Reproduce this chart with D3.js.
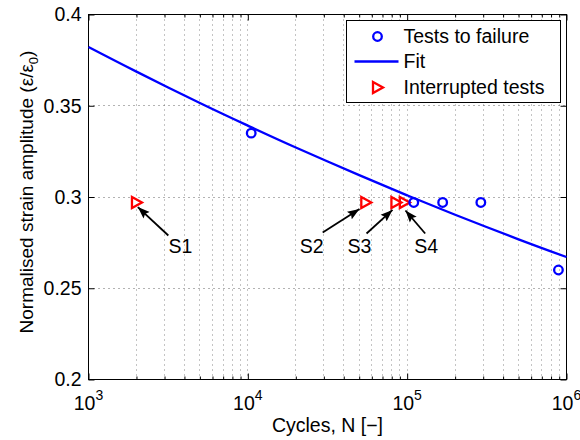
<!DOCTYPE html>
<html>
<head>
<meta charset="utf-8">
<script src="https://cdn.jsdelivr.net/npm/d3@7"></script>
<style>
  body { margin: 0; background: #fff; }
  text { font-family: 'Liberation Sans', Arial, sans-serif; fill: #000; }
</style>
</head>
<body>
<div id="chart"></div>
<script>
// tests run to failure
const failN = [10500, 110000, 167000, 290000, 890000]
const failV = [0.335, 0.297, 0.297, 0.297, 0.26]

// interrupted tests S1..S4
const interruptedN = [2000, 55000, 85000, 96000]
const interruptedV = [0.297, 0.297, 0.297, 0.297]

// fitted curve
const fitN = [1e3, 2e3, 5e3, 1e4, 2e4, 5e4, 1e5, 2e5, 5e5, 1e6]
const fitV = [0.3822, 0.3687, 0.3515, 0.3391, 0.3271, 0.312, 0.3009, 0.2903, 0.2768, 0.2671]

const xTickValues = [1e3, 1e4, 1e5, 1e6]
const xTickExponents = ['3', '4', '5', '6']
const yTickValues = [0.2, 0.25, 0.3, 0.35, 0.4]
const yTickLabels = ['0.2', '0.25', '0.3', '0.35', '0.4']

// label position and arrow tail/head, in data units
const annotations = [
  { label: 'S1', textN: 3770, textV: 0.2729, tailN: 3170, tailV: 0.2789, headN: 2040, headV: 0.2945 },
  { label: 'S2', textN: 25200, textV: 0.2729, tailN: 29500, tailV: 0.2805, headN: 50200, headV: 0.2934 },
  { label: 'S3', textN: 50200, textV: 0.2729, tailN: 55600, tailV: 0.28, headN: 80900, headV: 0.2929 },
  { label: 'S4', textN: 131500, textV: 0.2729, tailN: 129700, tailV: 0.28, headN: 97600, headV: 0.2926 }
]

const margin = { top: 14, right: 14, bottom: 61, left: 88 }
const width = 580 - margin.left - margin.right
const height = 440 - margin.top - margin.bottom

const root = d3
  .select('#chart')
  .append('svg')
  .attr('width', 580)
  .attr('height', 440)

root
  .append('defs')
  .append('marker')
  .attr('id', 'arrow')
  .attr('viewBox', '0 -5 12 10')
  .attr('refX', 12)
  .attr('refY', 0)
  .attr('markerUnits', 'userSpaceOnUse')
  .attr('markerWidth', 12)
  .attr('markerHeight', 10)
  .attr('orient', 'auto')
  .append('path')
  .attr('d', 'M0,-4.5L12,0L0,4.5L2,0Z')
  .attr('fill', '#000')

const svg = root
  .append('g')
  .attr('transform', 'translate(' + (margin.left + 0.5) + ',' + (margin.top + 0.5) + ')')

const xPositionScale = d3.scaleLog().domain([1e3, 1e6]).range([0, width])
const yPositionScale = d3.scaleLinear().domain([0.2, 0.4]).range([height, 0])

// every 2..9 x 10^k position on the log axis
const xMinor = []
for (let k = 3; k < 6; k++) {
  for (let m = 2; m < 10; m++) xMinor.push(m * Math.pow(10, k))
}
const xGrid = xMinor.concat([1e4, 1e5])

// dotted grid
const grid = svg.append('g').attr('class', 'grid')

grid
  .selectAll('line.gx')
  .data(xGrid)
  .enter()
  .append('line')
  .attr('class', 'gx')
  .attr('x1', d => Math.round(xPositionScale(d)))
  .attr('x2', d => Math.round(xPositionScale(d)))
  .attr('y1', 0)
  .attr('y2', height)
  .attr('stroke', '#888')
  .attr('stroke-dasharray', '1,4')

grid
  .selectAll('line.gy')
  .data(yTickValues.slice(1, -1))
  .enter()
  .append('line')
  .attr('class', 'gy')
  .attr('x1', 0)
  .attr('x2', width)
  .attr('y1', d => Math.round(yPositionScale(d)))
  .attr('y2', d => Math.round(yPositionScale(d)))
  .attr('stroke', '#666')
  .attr('stroke-dasharray', '1,4')

// inward ticks on all four sides
const tickAxes = [
  { axis: d3.axisBottom(xPositionScale).tickValues(xTickValues).tickSize(-6), at: 'translate(0,' + height + ')' },
  { axis: d3.axisBottom(xPositionScale).tickValues(xMinor).tickSize(-3), at: 'translate(0,' + height + ')' },
  { axis: d3.axisTop(xPositionScale).tickValues(xTickValues).tickSize(-6), at: 'translate(0,0)' },
  { axis: d3.axisTop(xPositionScale).tickValues(xMinor).tickSize(-3), at: 'translate(0,0)' },
  { axis: d3.axisLeft(yPositionScale).tickValues(yTickValues).tickSize(-6), at: 'translate(0,0)' },
  { axis: d3.axisRight(yPositionScale).tickValues(yTickValues).tickSize(-6), at: 'translate(' + width + ',0)' }
]

tickAxes.forEach(t => {
  const g = svg
    .append('g')
    .attr('transform', t.at)
    .call(t.axis.tickFormat(''))
  g.select('.domain').remove()
  g.selectAll('line').attr('stroke', '#000')
})

svg
  .append('rect')
  .attr('width', width)
  .attr('height', height)
  .attr('fill', 'none')
  .attr('stroke', '#000')

// tick labels
const xLabels = svg
  .selectAll('.x-label')
  .data(xTickValues)
  .enter()
  .append('text')
  .attr('class', 'x-label')
  .attr('x', d => xPositionScale(d))
  .attr('y', height + 30)
  .attr('text-anchor', 'middle')
  .style('font-size', '19.5px')

xLabels.append('tspan').text('10')
xLabels
  .append('tspan')
  .attr('dy', -10)
  .style('font-size', '14px')
  .text((d, i) => xTickExponents[i])

svg
  .selectAll('.y-label')
  .data(yTickValues)
  .enter()
  .append('text')
  .attr('class', 'y-label')
  .attr('x', -7)
  .attr('y', d => yPositionScale(d))
  .attr('dy', '0.35em')
  .attr('text-anchor', 'end')
  .style('font-size', '19.5px')
  .text((d, i) => yTickLabels[i])

// axis titles
svg
  .append('text')
  .attr('x', width / 2)
  .attr('y', height + 52)
  .attr('text-anchor', 'middle')
  .style('font-size', '19.5px')
  .text('Cycles, N [\u2212]')

const yTitle = svg
  .append('text')
  .attr('transform', 'translate(-56,' + (height / 2 - 5) + ') rotate(-90)')
  .attr('text-anchor', 'middle')
  .style('font-size', '19px')

yTitle.append('tspan').text('Normalised strain amplitude (\u03b5/\u03b5')
yTitle
  .append('tspan')
  .attr('dy', 5)
  .style('font-size', '13px')
  .text('0')
yTitle
  .append('tspan')
  .attr('dy', -5)
  .text(')')

// fit
const fitData = fitN.map((n, i) => ({ n: n, v: fitV[i] }))
const line = d3
  .line()
  .x(d => xPositionScale(d.n))
  .y(d => yPositionScale(d.v))
  .curve(d3.curveNatural)

svg
  .append('path')
  .datum(fitData)
  .attr('d', line)
  .attr('fill', 'none')
  .attr('stroke', '#0000ff')
  .attr('stroke-width', 2.3)

const trianglePath = 'M-4.5,-5.5L5.5,0L-4.5,5.5Z'

// interrupted tests
svg
  .selectAll('.interrupted')
  .data(interruptedN)
  .enter()
  .append('path')
  .attr('class', 'interrupted')
  .attr('d', trianglePath)
  .attr('transform', (d, i) => 'translate(' + xPositionScale(d) + ',' + yPositionScale(interruptedV[i]) + ')')
  .attr('fill', 'none')
  .attr('stroke', '#ff0000')
  .attr('stroke-width', 2.3)

// tests to failure
svg
  .selectAll('.failure')
  .data(failN)
  .enter()
  .append('circle')
  .attr('class', 'failure')
  .attr('cx', d => xPositionScale(d))
  .attr('cy', (d, i) => yPositionScale(failV[i]))
  .attr('r', 4.3)
  .attr('fill', 'none')
  .attr('stroke', '#0000ff')
  .attr('stroke-width', 2.3)

// S1..S4 arrows
svg
  .selectAll('.arrow')
  .data(annotations)
  .enter()
  .append('line')
  .attr('class', 'arrow')
  .attr('x1', d => xPositionScale(d.tailN))
  .attr('y1', d => yPositionScale(d.tailV))
  .attr('x2', d => xPositionScale(d.headN))
  .attr('y2', d => yPositionScale(d.headV))
  .attr('stroke', '#000')
  .attr('stroke-width', 1.8)
  .attr('marker-end', 'url(#arrow)')

svg
  .selectAll('.note')
  .data(annotations)
  .enter()
  .append('text')
  .attr('class', 'note')
  .attr('x', d => xPositionScale(d.textN))
  .attr('y', d => yPositionScale(d.textV))
  .attr('dy', '0.35em')
  .attr('text-anchor', 'middle')
  .style('font-size', '19.5px')
  .text(d => d.label)

// legend
const legend = svg.append('g').attr('transform', 'translate(258,6)')

legend
  .append('rect')
  .attr('width', 214)
  .attr('height', 82)
  .attr('fill', '#fff')
  .attr('stroke', '#000')

const legendRows = ['Tests to failure', 'Fit', 'Interrupted tests']
const legendY = [16, 41, 67]

legend
  .append('circle')
  .attr('cx', 31)
  .attr('cy', legendY[0])
  .attr('r', 4.3)
  .attr('fill', 'none')
  .attr('stroke', '#0000ff')
  .attr('stroke-width', 2.3)

legend
  .append('line')
  .attr('x1', 8)
  .attr('x2', 52)
  .attr('y1', legendY[1])
  .attr('y2', legendY[1])
  .attr('stroke', '#0000ff')
  .attr('stroke-width', 2.3)

legend
  .append('path')
  .attr('d', trianglePath)
  .attr('transform', 'translate(31,' + legendY[2] + ')')
  .attr('fill', 'none')
  .attr('stroke', '#ff0000')
  .attr('stroke-width', 2.3)

legend
  .selectAll('.legend-text')
  .data(legendRows)
  .enter()
  .append('text')
  .attr('class', 'legend-text')
  .attr('x', 57)
  .attr('y', (d, i) => legendY[i])
  .attr('dy', '0.35em')
  .style('font-size', '19.5px')
  .text(d => d)
</script>
</body>
</html>
